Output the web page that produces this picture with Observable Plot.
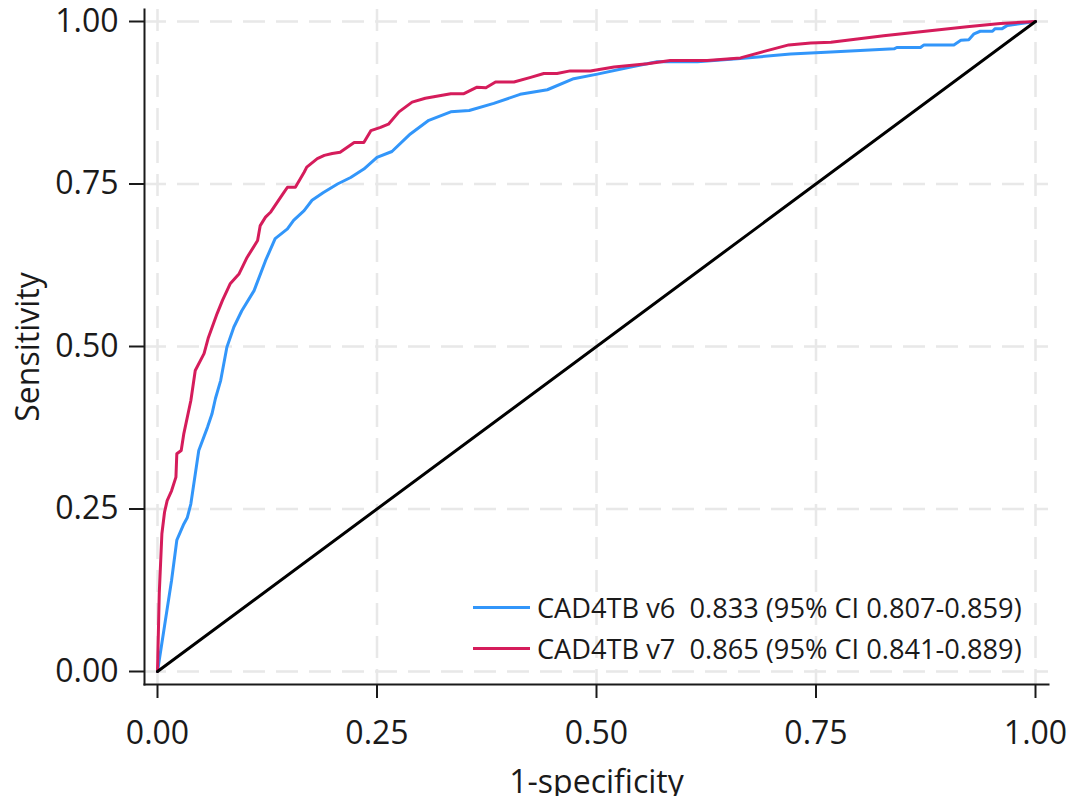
<!DOCTYPE html>
<html>
<head>
<meta charset="utf-8">
<script src="https://cdn.jsdelivr.net/npm/d3@7"></script>
<script src="https://cdn.jsdelivr.net/npm/@observablehq/plot@0.6"></script>
<style>
  html, body { margin: 0; padding: 0; background: #fff; }
  #chart { position: relative; width: 1076px; height: 796px; overflow: hidden; }
  #chart svg { display: block; }
  .legend { position: absolute; left: 473px; top: 587px; font-family: "Open Sans", sans-serif; font-size: 27.2px; color: #1a1a1a; }
  .legend .row { display: flex; align-items: center; height: 41px; white-space: pre; }
  .legend .swatch { width: 57px; height: 3px; margin-right: 7px; }
</style>
</head>
<body>
<div id="chart"></div>
<script>
// Axis ticks shared by both axes and the grid
const ticks = [0, 0.25, 0.5, 0.75, 1];

// Series names, colours and AUC annotations
const seriesNames = ["CAD4TB v6", "CAD4TB v7"];
const seriesColors = ["#3296fa", "#d51c5b"];
const aucLabels = ["0.833 (95% CI 0.807-0.859)", "0.865 (95% CI 0.841-0.889)"];

// ROC curve for CAD4TB v6: false positive rate / true positive rate
const v6FPR = [0, 0.008, 0.016, 0.022, 0.030, 0.034, 0.038, 0.047, 0.057, 0.062,
  0.066, 0.072, 0.079, 0.087, 0.096, 0.110, 0.123, 0.134, 0.148, 0.155,
  0.167, 0.176, 0.189, 0.205, 0.220, 0.235, 0.250, 0.267, 0.288, 0.309,
  0.334, 0.355, 0.383, 0.413, 0.444, 0.474, 0.501, 0.539, 0.569, 0.615,
  0.664, 0.721, 0.767, 0.839, 0.842, 0.869, 0.873, 0.907, 0.915, 0.924,
  0.930, 0.937, 0.951, 0.954, 0.962, 0.968, 1];
const v6TPR = [0, 0.07, 0.14, 0.202, 0.227, 0.237, 0.258, 0.34, 0.376, 0.396,
  0.420, 0.448, 0.499, 0.530, 0.555, 0.586, 0.632, 0.666, 0.681, 0.694,
  0.709, 0.725, 0.737, 0.750, 0.760, 0.773, 0.791, 0.800, 0.827, 0.848,
  0.861, 0.863, 0.874, 0.888, 0.895, 0.912, 0.919, 0.930, 0.938, 0.938,
  0.943, 0.950, 0.953, 0.958, 0.960, 0.960, 0.964, 0.964, 0.971, 0.972,
  0.981, 0.985, 0.985, 0.989, 0.989, 0.994, 1];

// ROC curve for CAD4TB v7
const v7FPR = [0, 0.002, 0.005, 0.008, 0.011, 0.016, 0.021, 0.022, 0.027, 0.030,
  0.038, 0.043, 0.053, 0.058, 0.068, 0.074, 0.083, 0.093, 0.102, 0.114,
  0.117, 0.123, 0.129, 0.144, 0.148, 0.157, 0.167, 0.170, 0.182, 0.190,
  0.199, 0.208, 0.224, 0.235, 0.243, 0.254, 0.263, 0.275, 0.290, 0.305,
  0.334, 0.349, 0.364, 0.374, 0.385, 0.406, 0.425, 0.440, 0.455, 0.470,
  0.493, 0.520, 0.558, 0.584, 0.626, 0.664, 0.691, 0.719, 0.744, 0.767,
  0.827, 0.922, 0.960, 1];
const v7TPR = [0, 0.12, 0.212, 0.245, 0.263, 0.278, 0.299, 0.335, 0.34, 0.366,
  0.417, 0.463, 0.489, 0.514, 0.551, 0.571, 0.597, 0.612, 0.637, 0.663,
  0.686, 0.699, 0.707, 0.737, 0.745, 0.745, 0.768, 0.776, 0.789, 0.794,
  0.797, 0.799, 0.814, 0.814, 0.832, 0.837, 0.842, 0.861, 0.876, 0.882,
  0.889, 0.889, 0.899, 0.898, 0.907, 0.907, 0.914, 0.920, 0.920, 0.924,
  0.924, 0.930, 0.935, 0.940, 0.940, 0.944, 0.954, 0.964, 0.967, 0.968,
  0.978, 0.992, 0.997, 1];

// Chance line
const chanceFPR = [0, 1];
const chanceTPR = [0, 1];

const toPoints = (xs, ys) => xs.map((x, i) => ({x, y: ys[i]}));
const v6 = toPoints(v6FPR, v6TPR);
const v7 = toPoints(v7FPR, v7TPR);
const chance = toPoints(chanceFPR, chanceTPR);

const ink = "#1a1a1a";
const gridStyle = {stroke: "#e8e8e8", strokeOpacity: 1, strokeWidth: 2.5, strokeDasharray: "22,11"};

const plot = Plot.plot({
  width: 1076,
  height: 796,
  marginLeft: 144,
  marginRight: 28,
  marginTop: 9,
  marginBottom: 112,
  style: {fontFamily: "'Open Sans', sans-serif", fontSize: "32px", color: ink, background: "#fff", overflow: "hidden"},
  x: {domain: [-13 / 878, 1 + 13 / 878]},
  y: {domain: [-13 / 650, 1 + 12 / 650]},
  marks: [
    Plot.gridX(ticks, gridStyle),
    Plot.gridY(ticks, gridStyle),
    Plot.frame({anchor: "left", stroke: ink, strokeWidth: 2}),
    Plot.frame({anchor: "bottom", stroke: ink, strokeWidth: 2}),
    Plot.axisX(ticks, {
      tickFormat: d => d.toFixed(2), tickSize: 14, tickPadding: 23, strokeWidth: 2,
      label: "1-specificity", labelAnchor: "center", labelArrow: "none", labelOffset: 108
    }),
    Plot.axisY(ticks, {
      tickFormat: d => d.toFixed(2), tickSize: 15, tickPadding: 11, strokeWidth: 2,
      label: "Sensitivity", labelAnchor: "center", labelArrow: "none", labelOffset: 128
    }),
    Plot.line(v6, {x: "x", y: "y", stroke: seriesColors[0], strokeWidth: 3}),
    Plot.line(v7, {x: "x", y: "y", stroke: seriesColors[1], strokeWidth: 3}),
    Plot.line(chance, {x: "x", y: "y", stroke: "#000", strokeWidth: 3})
  ]
});

const chart = document.getElementById("chart");
chart.appendChild(plot);

// Legend placed inside the plotting area, lower right
const legend = document.createElement("div");
legend.className = "legend";
seriesNames.forEach((name, i) => {
  const row = document.createElement("div");
  row.className = "row";
  const sw = document.createElement("span");
  sw.className = "swatch";
  sw.style.background = seriesColors[i];
  const label = document.createElement("span");
  label.textContent = name + "  " + aucLabels[i];
  row.appendChild(sw);
  row.appendChild(label);
  legend.appendChild(row);
});
chart.appendChild(legend);
</script>
</body>
</html>
